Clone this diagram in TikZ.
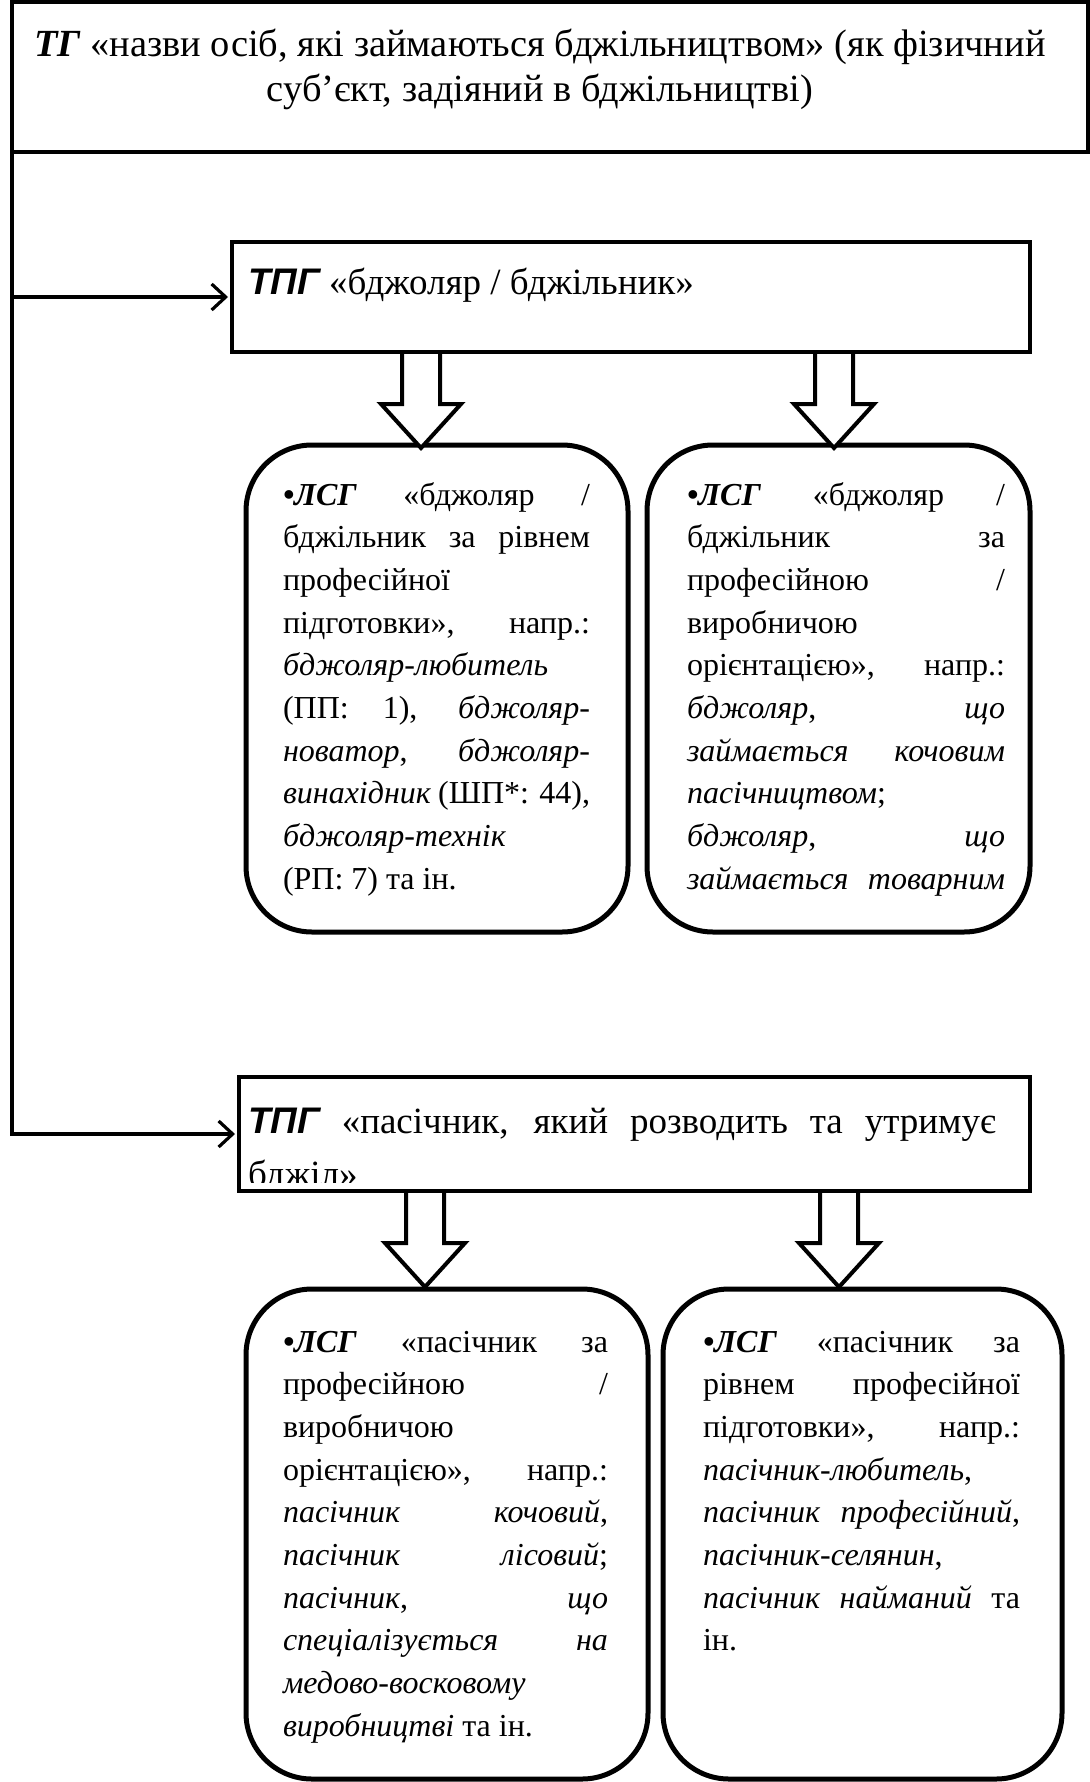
\documentclass[tikz,border=0pt]{standalone}
\usepackage{fontspec}
\setmainfont{Liberation Serif}
\newfontfamily\arialf{Liberation Sans}
\usetikzlibrary{arrows.meta,calc}
\newcommand\jrow[1]{\hbox to\hsize{#1}}
\newcommand\lrow[1]{\hbox{#1}}
\newcommand\lsgmark{{\bfseries\itshape •ЛСГ}}
\newcommand\tpgmark{{\arialf\bfseries\itshape ТПГ}}
\newcommand\blockarrow[1]{\draw[blockarr] (#1) ++(-19,0) -- ++(0,50) -- ++(-21,0) -- ++(40,44) -- ++(40,-44) -- ++(-21,0) -- ++(0,-50);}
\begin{document}
\begin{tikzpicture}[x=0.5pt,y=-0.5pt,
  sqbox/.style={draw=black, line width=2pt, fill=white, inner sep=0pt, outer sep=0pt, rectangle},
  rbox/.style={draw=black, line width=2.5pt, fill=white, inner sep=0pt, outer sep=0pt, rounded corners=33pt},
  conn/.style={line width=1.6pt, shorten >=2pt, -{Straight Barb[length=7pt,width=13pt,line width=1.6pt]}},
  blockarr/.style={draw=black, line width=2pt, fill=white, line join=miter},
  txt/.style={inner sep=0pt, outer sep=0pt, anchor=base west, font=\fontsize{16}{21.35}\selectfont},
  ctxt/.style={inner sep=0pt, outer sep=0pt, anchor=base, font=\fontsize{19.2}{22.5}\selectfont}]
\useasboundingbox (0,0) rectangle (1090,1782);
\fill[white] (0,0) rectangle (1090,1782);

% boxes
\node[sqbox, minimum width=538pt, minimum height=75pt] (top) at (550,77) {};
\node[sqbox, minimum width=399pt, minimum height=55pt] (tpg1) at (631,297) {};
\node[sqbox, minimum width=395.5pt, minimum height=57pt] (tpg2) at (634.5,1134) {};
\node[rbox, minimum width=191pt, minimum height=243.5pt] (lsg1) at (437,688.5) {};
\node[rbox, minimum width=191.5pt, minimum height=243.5pt] (lsg2) at (838.5,688.5) {};
\node[rbox, minimum width=201pt, minimum height=245pt] (lsg3) at (447,1534) {};
\node[rbox, minimum width=199.5pt, minimum height=245pt] (lsg4) at (862.5,1534) {};

% connectors
\draw[conn] (top.south west) |- (tpg1.west);
\draw[conn] (top.south west) |- (tpg2.west);

% block arrows
\blockarrow{$(tpg1.south west)+(189,2)$}
\blockarrow{$(tpg1.south west)+(602,2)$}
\blockarrow{$(tpg2.south west)+(186,2)$}
\blockarrow{$(tpg2.south west)+(600,2)$}

% texts
\node[ctxt] (toptext) at ($(top.north west)+(528,55)$) {\vtop{\hsize=530pt
  \hbox to\hsize{\hfil{\bfseries\itshape ТГ} «назви осіб, які займаються бджільництвом» (як фізичний\hfil}
  \hbox to\hsize{\hfil суб’єкт, задіяний в бджільництві)\hfil}}};

\node[txt, font=\fontsize{18.5}{22}\selectfont] (tpg1text) at ($(tpg1.north west)+(16,52)$) {\tpgmark{} «бджоляр / бджільник»};

\begin{scope}
\clip (tpg2.north west) rectangle ($(tpg2.south east)+(0,-9)$);
\node[txt, font=\fontsize{18.5}{26.5}\selectfont] (tpg2text) at ($(tpg2.north west)+(9,56)$) {\vtop{\hsize=374pt
  \jrow{\tpgmark{} «пасічник, який розводить та утримує}
  \lrow{бджіл»}}};
\end{scope}

\node[txt] (lsg1text) at ($(lsg1.north west)+(37,60)$) {\vtop{\hsize=153.5pt
  \jrow{\lsgmark{} «бджоляр /}
  \jrow{бджільник за рівнем}
  \lrow{професійної}
  \jrow{підготовки», напр.:}
  \lrow{\textit{бджоляр-любитель}}
  \jrow{(ПП: 1), \textit{бджоляр-}}
  \jrow{\textit{новатор}, \textit{бджоляр-}}
  \jrow{\textit{винахідник} (ШП*: 44),}
  \lrow{\textit{бджоляр-технік}}
  \lrow{(РП: 7) та ін.}}};

\node[txt] (lsg2text) at ($(lsg2.north west)+(40,60)$) {\vtop{\hsize=159pt
  \jrow{\lsgmark{} «бджоляр /}
  \jrow{бджільник за}
  \jrow{професійною /}
  \lrow{виробничою}
  \jrow{орієнтацією», напр.:}
  \jrow{\textit{бджоляр}, \textit{що}}
  \jrow{\textit{займається кочовим}}
  \lrow{\textit{пасічництвом};}
  \jrow{\textit{бджоляр}, \textit{що}}
  \jrow{\textit{займається товарним}}}};

\node[txt] (lsg3text) at ($(lsg3.north west)+(37,63)$) {\vtop{\hsize=162.5pt
  \jrow{\lsgmark{} «пасічник за}
  \jrow{професійною /}
  \lrow{виробничою}
  \jrow{орієнтацією», напр.:}
  \jrow{\textit{пасічник кочовий},}
  \jrow{\textit{пасічник лісовий};}
  \jrow{\textit{пасічник}, \textit{що}}
  \jrow{\textit{спеціалізується на}}
  \lrow{\textit{медово-восковому}}
  \lrow{\textit{виробництві} та ін.}}};

\node[txt] (lsg4text) at ($(lsg4.north west)+(40,63)$) {\vtop{\hsize=158.5pt
  \jrow{\lsgmark{} «пасічник за}
  \jrow{рівнем професійної}
  \jrow{підготовки», напр.:}
  \lrow{\textit{пасічник-любитель},}
  \jrow{\textit{пасічник професійний},}
  \lrow{\textit{пасічник-селянин},}
  \jrow{\textit{пасічник найманий} та}
  \lrow{ін.}}};
\end{tikzpicture}
\end{document}
